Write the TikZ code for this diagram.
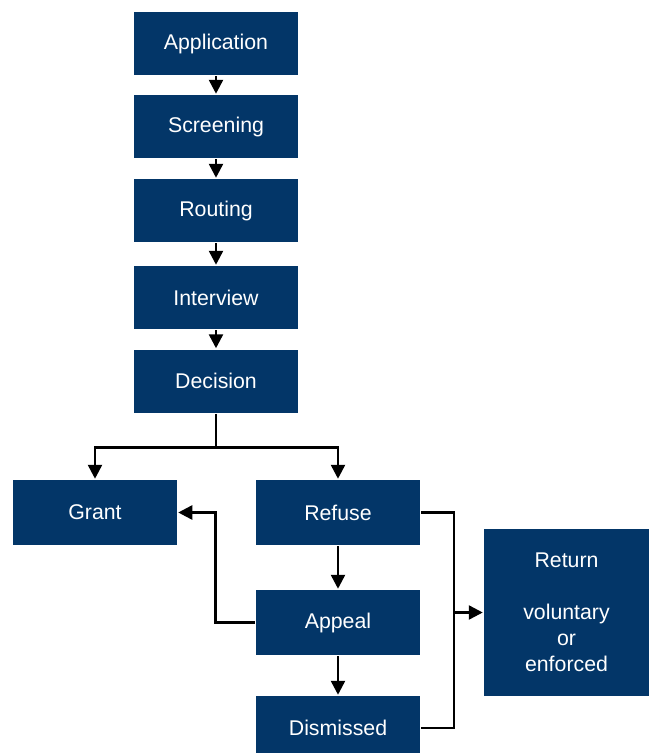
\documentclass[tikz,border=0pt]{standalone}
\usepackage{fontspec}
\setmainfont{Liberation Sans}
\usetikzlibrary{arrows.meta}
\definecolor{navy}{RGB}{3,54,104}
\begin{document}
\begin{tikzpicture}[x=1pt,y=-1pt,>={Triangle[length=14pt,width=14pt]},line width=2.5pt,line join=miter,
	box/.style={fill=navy,text=white,minimum width=164pt,minimum height=63pt,inner sep=0pt,align=center,font=\fontsize{21.3}{26}\selectfont}]
	\clip (0,0) rectangle (651,753);
	\foreach \n/\t/\y in {app/Application/43.5,scr/Screening/126.5,rou/Routing/210.5,int/Interview/297.5,dec/Decision/381}
	\node[box] (\n) at (216,\y) {\t};
	\node[box,minimum height=65pt] (grant) at (95,512.5) {Grant};
	\node[box,minimum height=65pt] (ref) at (338,512.5) {Refuse};
	\node[box,minimum height=65pt] (appeal) at (338,622.5) {Appeal};
	\node[box,minimum height=64pt] (dis) at (338,728) {Dismissed};
	\node[box,minimum width=165pt,minimum height=167pt] (ret) at (566.5,612.5) {Return\\[26pt]voluntary\\or\\enforced};
	\foreach \a/\b in {app/scr,scr/rou,rou/int,int/dec,ref/appeal,appeal/dis}
	\draw[->] (\a) -- (\b);
	\draw[->] (dec.south) -- ++(0,33.7) -| (grant.north);
	\draw[->] (dec.south) -- ++(0,33.7) -| (ref.north);
	\draw[->] (appeal.west) -- ++(-39.3,0) |- (grant.east);
	\draw (ref.east) -- ++(32.5,0) coordinate (bus) |- (dis.east);
	\draw[->] (bus |- ret.west) -- (ret.west);
\end{tikzpicture}
\end{document}
